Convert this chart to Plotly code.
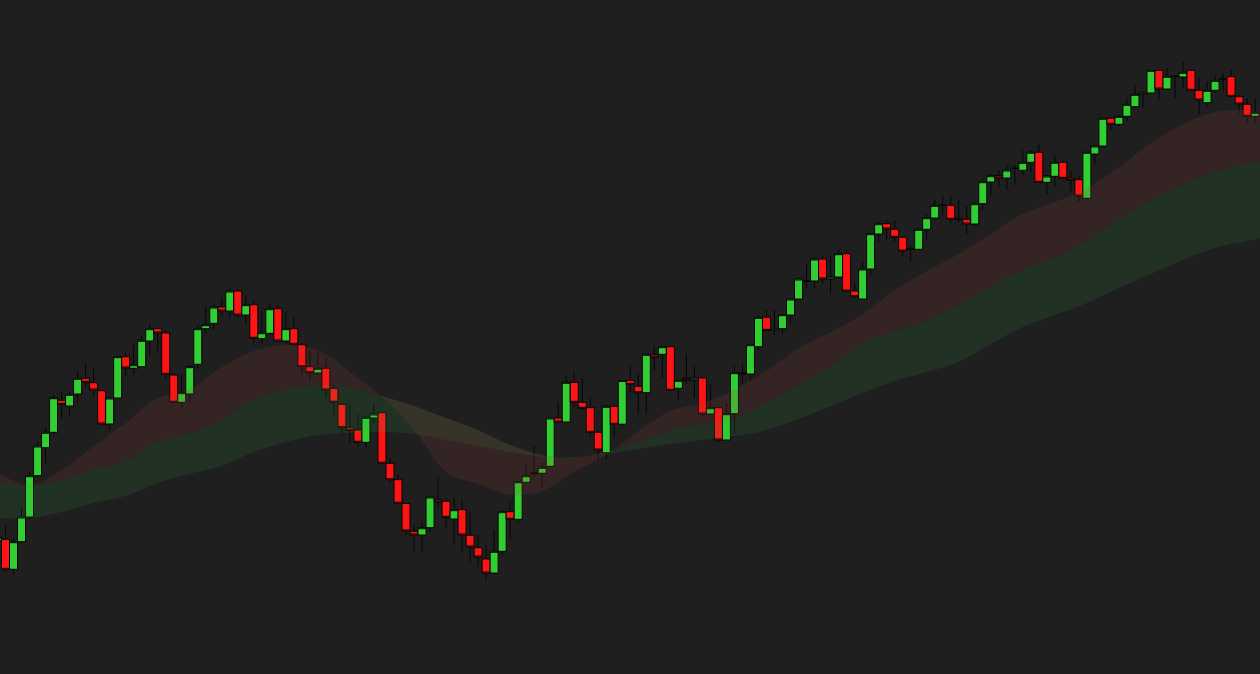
import plotly.graph_objects as go

# ---- Candle data (arbitrary price units) ----
opens = [159.3, 160.7, 130.7, 158.3, 183, 224.3, 252.3, 267.7, 299.7, 294, 306, 321.7, 317.3, 309.3, 276, 302,
         343.3, 331.7, 333.3, 359, 371.3, 367, 325, 297.7, 306, 335.7, 371.3, 376.7, 393, 389, 409, 385,
         395.3, 361.3, 366.7, 391.3, 359, 371.3, 355.3, 333.3, 327, 331.7, 311.7, 295.7, 272.7, 270, 257.7, 282,
         287.3, 236.7, 220.3, 196.5, 168.7, 165, 172.3, 200.3, 198.7, 181, 190.3, 164.7, 152.3, 141, 127, 148.7,
         188.3, 180.7, 217.7, 226.5, 226.7, 233.7, 282, 278, 317.7, 297.7, 292.3, 267.7, 247.3, 293.7, 275.8, 319.7,
         313.7, 307.3, 345.7, 345.7, 353.3, 311.7, 321.7, 320, 322, 286, 292.3, 260, 286.3, 327.3, 326, 353.3,
         382.7, 369.7, 371.3, 385, 401, 418.7, 419, 441, 421, 423, 446.3, 409, 401, 431, 466, 476.3,
         470.7, 462.7, 450.7, 450.7, 470.7, 482, 494.5, 494.7, 480.5, 480.7, 476, 496.3, 518, 524.3, 522, 531.5,
         529.7, 537.7, 547.7, 517.7, 523.7, 537.7, 522, 520.3, 501.7, 546, 554, 581.7, 575.7, 583.7, 593.3, 605.7,
         607, 629.7, 611, 623.5, 623, 629.7, 609.7, 597.3, 609.7, 620.8, 623.3, 603.3, 595.7, 583.7]
highs = [164, 174.3, 161.7, 193.3, 228, 259.3, 271.7, 305, 309, 308, 329, 336.7, 332.7, 310, 303, 344,
         349, 355, 364, 375.7, 372.3, 370, 326.7, 326, 335, 374, 393.3, 395.7, 402.3, 411.7, 410, 405,
         398.3, 388.3, 396.7, 395, 388.3, 382.7, 357, 349.3, 347.3, 342.7, 315, 297, 295.7, 285.7, 283, 296.7,
         288, 241.7, 225.7, 197, 176, 178.3, 204, 222.3, 202.3, 202.3, 200, 187.7, 166, 155, 170, 189,
         198.3, 219, 236, 254, 237.3, 282.7, 297.3, 325, 328.3, 321.7, 303.3, 270, 295, 295, 320, 335,
         326.7, 346, 352.7, 354, 354, 320, 346.7, 335, 323, 315, 293, 296.7, 333.3, 336, 356, 384,
         390, 390, 386, 402, 422, 436, 442.7, 445, 445, 450.7, 450, 416.7, 438.3, 466.7, 478.3, 480,
         479.3, 463.3, 454, 471.7, 486, 500.7, 504, 504, 500, 493.3, 498.3, 520, 526.7, 530, 535, 535,
         549.3, 550, 555.7, 525, 545, 538.3, 530, 523.3, 548.3, 555, 582.3, 583.3, 585, 601.7, 615, 609,
         630, 630, 632.3, 625, 638.3, 630, 622.3, 618.3, 625, 626.7, 630, 605, 602, 601.7]
lows = [158, 128.3, 125, 156.7, 180.7, 223, 236.7, 266, 282.3, 284, 298.3, 314, 304, 275, 270, 301,
        323.3, 325.7, 333, 346, 347, 321.7, 297, 292.3, 297.7, 331.7, 366.7, 370, 383.3, 381.7, 382, 375.7,
        357.3, 355.7, 365, 358, 356.7, 355, 325.7, 319, 325, 302.3, 283.3, 266.7, 256.7, 253.3, 252.7, 277.3,
        236, 216.7, 195, 165, 148.3, 147.3, 168.3, 193.3, 171, 155, 147.3, 137.3, 133.3, 119.3, 126, 145,
        160.7, 178.3, 217, 223.3, 212.7, 233, 277, 276.7, 293.3, 290, 262.7, 240, 240, 263, 272.7, 307.3,
        286.7, 287.3, 330, 321.7, 309, 300, 316.7, 301.7, 283.3, 285, 256.7, 259, 266.7, 316, 320, 350,
        369, 365, 365.7, 376.7, 400, 411.7, 411.7, 416.7, 406.7, 421, 408.3, 402.7, 400, 425, 458.3, 460,
        458.3, 443.3, 438.3, 450, 460, 480, 485, 476.7, 478, 466, 474, 490, 504, 512.3, 510, 515,
        525, 528.3, 517, 505.7, 514, 521, 508.3, 498.3, 501, 535, 552, 570, 573.3, 579, 591.7, 591.7,
        605.7, 600, 610, 601.7, 611.7, 609, 585.7, 593.3, 607, 608.3, 603, 586.7, 576.7, 576.7]
closes = [162.7, 130.7, 158.3, 183, 224.3, 254, 267.7, 302.3, 295.7, 305.7, 321.7, 317.7, 310, 276, 302, 343.3,
          332, 335.3, 359.7, 371.3, 367, 325.7, 297.7, 307.3, 333.3, 371.3, 375.3, 393, 389, 409, 385, 395.3,
          361.7, 367.3, 391.3, 359, 371.3, 355.7, 333.3, 327.3, 331.7, 310, 297.7, 272.3, 269.7, 257.7, 282.7, 286,
          236.7, 220.3, 196.7, 169, 165, 172.3, 203, 198, 182.7, 190.3, 165, 153, 143, 127, 148.7, 188.3,
          180.7, 218.3, 224.3, 226.9, 232.7, 282, 278, 317.7, 297.7, 291.7, 267.7, 250, 293.7, 275.7, 319.5, 315.7,
          307.3, 345.7, 343, 353.3, 309.7, 319.7, 319.7, 322, 286, 292.3, 260, 286.3, 327.3, 326, 355.3, 382.7,
          369.7, 371.7, 385.3, 401, 421, 418.9, 441, 421, 423, 446.3, 409, 403.3, 431, 466.3, 476.3, 471,
          462.7, 449, 450.9, 470.7, 482.3, 494.7, 494.7, 480.7, 480.7, 476, 496.3, 518.3, 524.3, 522, 530, 531.7,
          537.7, 547.7, 517.7, 524, 537.7, 521.7, 519.7, 504, 547.7, 554, 581.7, 575.7, 583.7, 595.7, 605.7, 607.7,
          629.7, 611, 623.7, 623.7, 627.7, 609.7, 600, 609.7, 619.7, 621, 603.7, 596, 583.7, 587.7]
bars = list(range(len(opens)))

# ---- Moving-average bands ----
band_x = [0, 4, 8, 12, 16, 20, 24, 28, 32, 36, 40, 44, 48, 52, 56, 60, 64, 68, 72, 76,
          80, 84, 88, 92, 96, 100, 104, 108, 112, 116, 120, 124, 128, 132, 136, 140, 144, 148, 152, 156, 158]
fast_line = [228, 215, 230, 254, 277, 302, 311, 333, 349, 355, 350, 328, 303, 270, 228, 216, 205, 209, 228, 245,
             269, 289, 297, 310, 329, 352, 368, 386, 410, 429, 446, 466, 486, 498, 512, 533, 557, 576, 588, 590, 588]
mid_line = [218, 214, 220, 230, 239, 258, 267, 280, 301, 310, 315, 312, 304, 294, 282, 270, 255, 245, 242, 248,
            258, 270, 276, 282, 297, 315, 334, 357, 369, 379, 395, 413, 430, 442, 460, 480, 500, 516, 528, 536, 539]
slow_line = [182, 182, 188, 197, 204, 217, 226, 234, 248, 258, 265, 267, 268, 266, 260, 254, 248, 243, 243, 246,
             251, 256, 260, 264, 270, 281, 294, 307, 319, 328, 338, 356, 373, 385, 397, 412, 426, 440, 452, 459, 462]

BG = "#1f1f1f"
fig = go.Figure()

# green band: between mid and slow
fig.add_trace(go.Scatter(x=band_x, y=slow_line, mode="lines", line=dict(width=0, shape="spline"),
                         hoverinfo="skip", showlegend=False))
fig.add_trace(go.Scatter(x=band_x, y=mid_line, mode="lines", line=dict(width=0, shape="spline"),
                         fill="tonexty", fillcolor="rgba(50,170,70,0.13)", hoverinfo="skip", showlegend=False))
# red band: between fast and mid
fig.add_trace(go.Scatter(x=band_x, y=mid_line, mode="lines", line=dict(width=0, shape="spline"),
                         hoverinfo="skip", showlegend=False))
fig.add_trace(go.Scatter(x=band_x, y=fast_line, mode="lines", line=dict(width=0, shape="spline"),
                         fill="tonexty", fillcolor="rgba(170,60,60,0.16)", hoverinfo="skip", showlegend=False))

fig.add_trace(go.Candlestick(
    x=bars, open=opens, high=highs, low=lows, close=closes,
    increasing=dict(fillcolor="#32cd32", line=dict(color="#050505", width=1)),
    decreasing=dict(fillcolor="#fe1414", line=dict(color="#050505", width=1)),
    whiskerwidth=0, showlegend=False,
))

fig.update_layout(
    width=1260, height=674,
    margin=dict(l=0, r=0, t=0, b=0),
    paper_bgcolor=BG, plot_bgcolor=BG,
    boxgap=0, boxgroupgap=0,
    showlegend=False,
    xaxis=dict(visible=False, range=[0.313, 157.61], rangeslider=dict(visible=False)),
    yaxis=dict(visible=False, range=[26, 700]),
)

fig.write_html("out.html", config={"displayModeBar": False},
               post_script="document.body.style.margin='0';document.body.style.overflow='hidden';document.body.style.background='#1f1f1f';")
